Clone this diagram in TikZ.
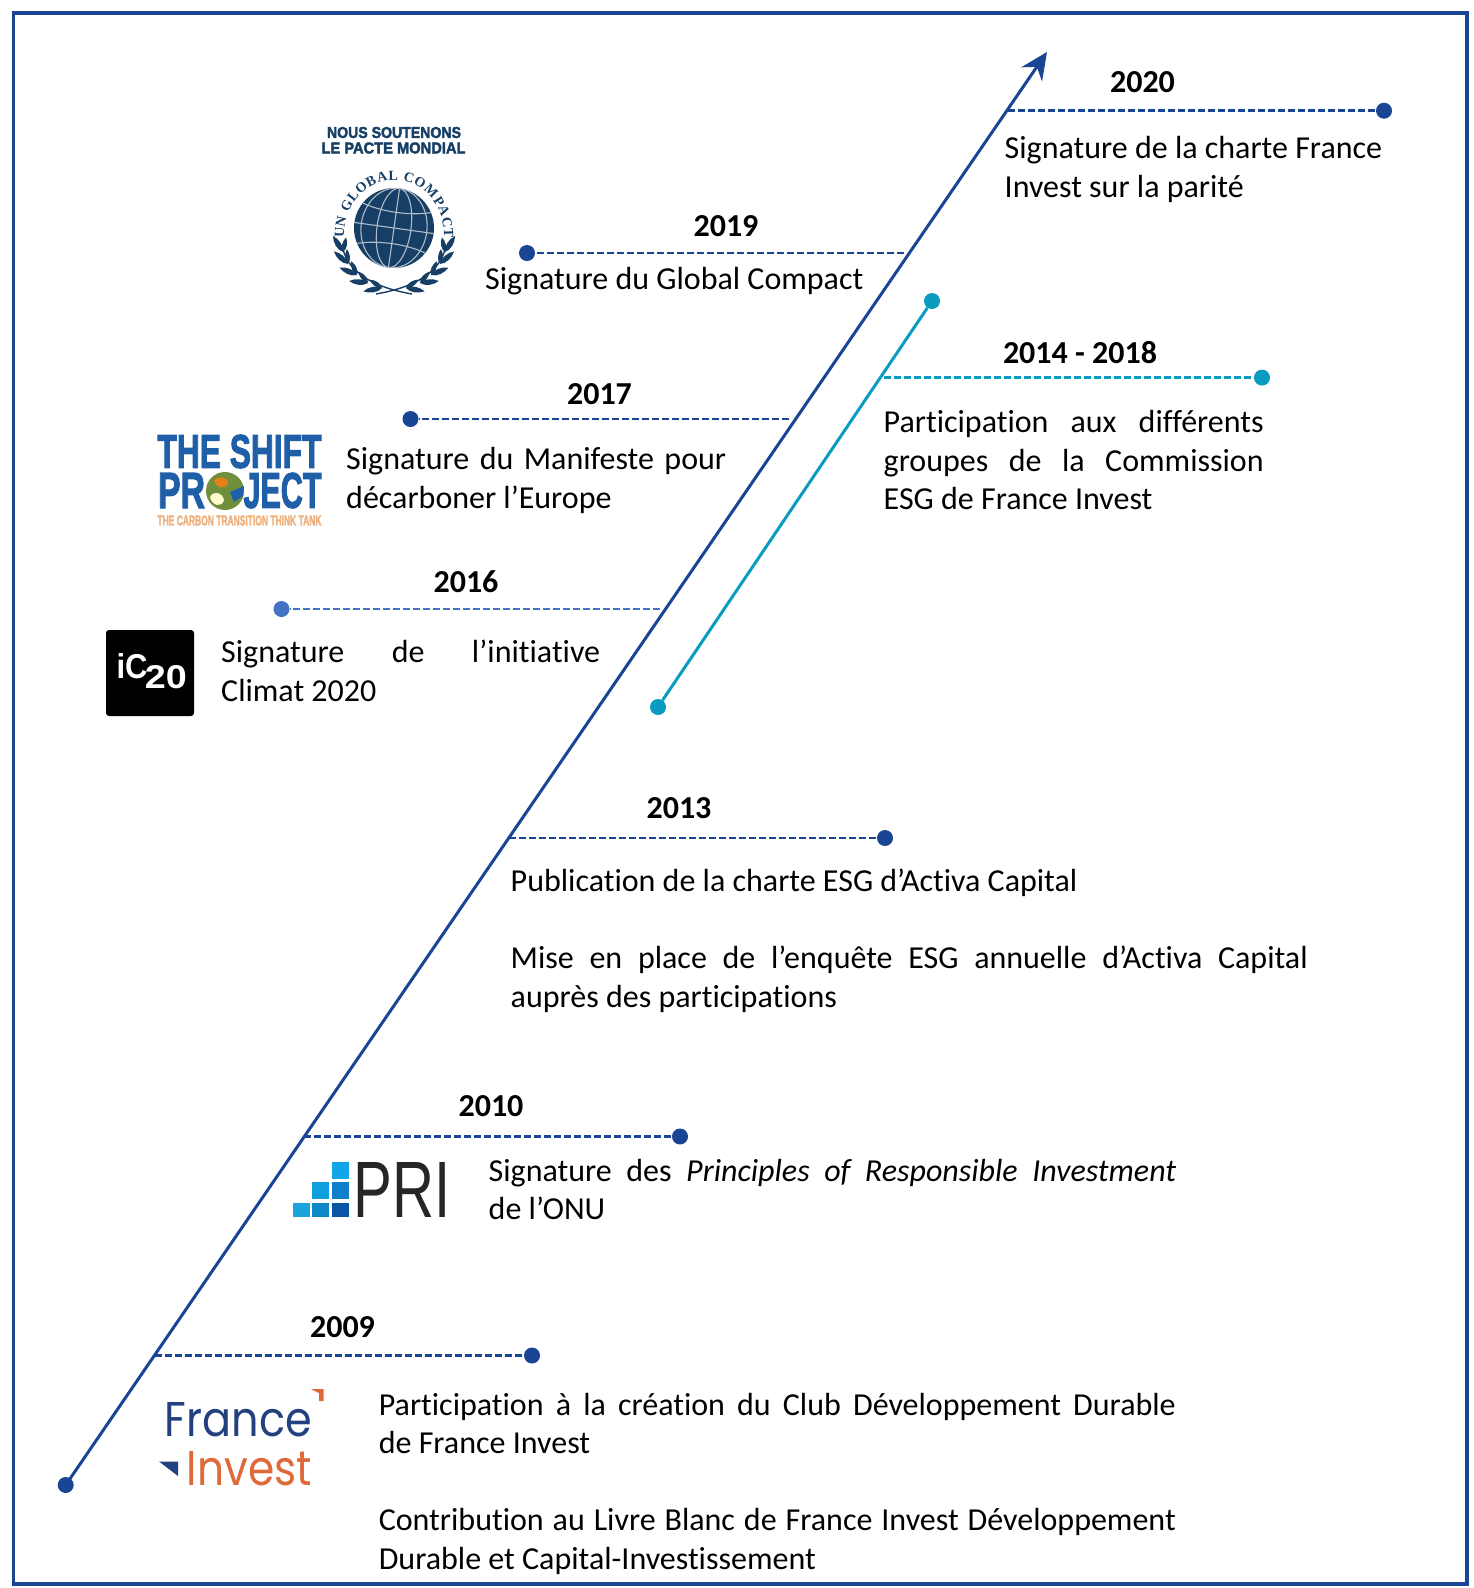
\documentclass[tikz,border=0pt]{standalone}
\usepackage{fontspec}
\setmainfont{Carlito}[Ligatures={NoCommon}]
\newfontfamily\logosans{Liberation Sans}
\newfontfamily\logoheavy{Liberation Sans Bold}[FakeBold=2.5]
\newfontfamily\logoserif{Liberation Serif}
\newfontfamily\logopop{Poppins}
\usetikzlibrary{arrows.meta,decorations.text}
\definecolor{navy}{HTML}{1A4595}
\definecolor{tealbar}{HTML}{0A9CC0}
\definecolor{midblue}{HTML}{4472C4}
\definecolor{gcblue}{HTML}{173F66}
\definecolor{shiftblue}{HTML}{1F5FA8}
\definecolor{globegreen}{HTML}{6F8F3A}
\definecolor{franceblue}{HTML}{24417F}
\definecolor{investorange}{HTML}{E0693A}
\definecolor{carbonorange}{HTML}{EDB27F}
\newcommand{\jl}[2]{\makebox[#1pt][s]{#2}}
\newcommand{\fitbox}[3]{\resizebox{#1pt}{#2pt}{#3}}
\tikzset{
  x=1pt,y=-1pt,
  frameline/.style={draw=navy,line width=3.5pt},
  timeline/.style={draw=navy,line width=3pt},
  dotnode/.style={circle,fill=#1,inner sep=0pt,minimum size=16pt},
  dotnode/.default=navy,
  dashline/.style={draw=#1,line width=2.6pt,dash pattern=on 7pt off 3pt},
  dashline/.default=navy,
  yearlabel/.style={anchor=base,inner sep=0pt,font=\fontsize{32}{38.5}\selectfont\bfseries},
  bodytext/.style={anchor=north west,inner sep=0pt,align=left,font=\fontsize{32}{38.5}\selectfont},
  logotext/.style={inner sep=0pt,anchor=center},
  leaf/.style={fill=gcblue},
}
\begin{document}
\begin{tikzpicture}
\useasboundingbox (0,0) rectangle (1474,1588);
\fill[white] (0,0) rectangle (1474,1588);
\draw[frameline] (13.5,13) rectangle (1467,1584);

% main timeline
\node[dotnode] (start) at (65.7,1485) {};
\coordinate (tip) at (1047,52);
\draw[timeline,-{Stealth[length=27pt,width=25pt,inset=9pt]}] (start.center) -- (tip);

% teal period bar
\node[dotnode=tealbar] (tealtop) at (932,301) {};
\node[dotnode=tealbar] (tealbot) at (658,707) {};
\draw[draw=tealbar,line width=3pt] (tealbot) -- (tealtop);

% 2020
\coordinate (j2020) at (1008,110.7);
\node[dotnode] (d2020) at (1384,110.7) {};
\draw[dashline] (j2020) -- (d2020);
\node[yearlabel] (y2020) at (1142.5,92) {2020};
\node[bodytext] (t2020) at (1004.5,131.5) {\strut Signature de la charte France\\Invest sur la parité};

% 2019
\coordinate (j2019) at (904,253);
\node[dotnode] (d2019) at (527,253) {};
\draw[dashline] (j2019) -- (d2019);
\node[yearlabel] (y2019) at (726,236) {2019};
\node[bodytext] (t2019) at (485,262.5) {\strut Signature du Global Compact};

% 2014 - 2018
\coordinate (j2014) at (884,377.6);
\node[dotnode=tealbar] (d2014) at (1262,377.6) {};
\draw[dashline=tealbar] (j2014) -- (d2014);
\node[yearlabel] (y2014) at (1080,363.5) {2014 - 2018};
\node[bodytext] (t2014) at (883.5,405.5) {\strut\jl{380}{Participation aux différents}\\\jl{380}{groupes de la Commission}\\ESG de France Invest};

% 2017
\coordinate (j2017) at (789,419);
\node[dotnode] (d2017) at (410.5,419) {};
\draw[dashline] (j2017) -- (d2017);
\node[yearlabel] (y2017) at (599.5,404) {2017};
\node[bodytext] (t2017) at (346,442.6) {\strut\jl{380}{Signature du Manifeste pour}\\décarboner l’Europe};

% 2016
\coordinate (j2016) at (660,609);
\node[dotnode=midblue] (d2016) at (281.5,609) {};
\draw[dashline=midblue] (j2016) -- (d2016);
\node[yearlabel] (y2016) at (466,592.5) {2016};
\node[bodytext] (t2016) at (221,635.5) {\strut\jl{379}{Signature de l’initiative}\\Climat 2020};

% 2013
\coordinate (j2013) at (509,838);
\node[dotnode] (d2013) at (885,838) {};
\draw[dashline] (j2013) -- (d2013);
\node[yearlabel] (y2013) at (679,818) {2013};
\node[bodytext] (t2013) at (510.5,864.5) {\strut Publication de la charte ESG d’Activa Capital\\[38.5pt]\jl{797}{Mise en place de l’enquête ESG annuelle d’Activa Capital}\\auprès des participations};

% 2010
\coordinate (j2010) at (304,1136.5);
\node[dotnode] (d2010) at (680,1136.5) {};
\draw[dashline] (j2010) -- (d2010);
\node[yearlabel] (y2010) at (491,1116.5) {2010};
\node[bodytext] (t2010) at (488.5,1154) {\strut\jl{687.5}{Signature des \textit{Principles of Responsible Investment}}\\de l’ONU};

% 2009
\coordinate (j2009) at (155,1355.5);
\node[dotnode] (d2009) at (532,1355.5) {};
\draw[dashline] (j2009) -- (d2009);
\node[yearlabel] (y2009) at (342.5,1337) {2009};
\node[bodytext] (t2009) at (378.6,1388) {\strut\jl{797}{Participation à la création du Club Développement Durable}\\de France Invest\\[38.5pt]\jl{797}{Contribution au Livre Blanc de France Invest Développement}\\Durable et Capital-Investissement};

% --- UN Global Compact logo
\node[logotext,text=gcblue] (gc1) at (394,132.5) {\fitbox{134}{11}{\logoheavy NOUS SOUTENONS}};
\node[logotext,text=gcblue] (gc2) at (393.5,148) {\fitbox{144}{11}{\logoheavy LE PACTE MONDIAL}};
\fill[gcblue] (394,228) circle[radius=40pt];
\begin{scope}[draw=white!65!gcblue,line width=1.1pt,rotate around={-8:(394,228)}]
  \clip (394,228) circle[radius=40pt];
  \draw (394,188) -- (394,268);
  \draw (394,228) ellipse[x radius=17pt,y radius=40pt];
  \draw (394,228) ellipse[x radius=33pt,y radius=40pt];
  \draw (354,228) -- (434,228);
  \draw (358,207) .. controls (378,214) and (410,214) .. (430,207);
  \draw (358,249) .. controls (378,242) and (410,242) .. (430,249);
\end{scope}
\path[decorate,decoration={text along path,text align={fit to path},
  text={|\logoserif\bfseries\fontsize{14}{14}\selectfont\color{gcblue}|UN GLOBAL COMPACT}}]
  (344,238) .. controls (343,204) and (367,180) .. (394,180) .. controls (421,180) and (445,204) .. (444,238);
\foreach \s in {1,-1}{
  \begin{scope}[shift={(394,228)},xscale=\s]
    \draw[gcblue,line width=1.4pt] (-52,17) .. controls (-48,40) and (-28,58) .. (18,66);
    \foreach \px/\py/\a in {-51/24/100,-46/36/116,-37/47/135,-26/55/152,-12/60/168}{
      \fill[leaf,shift={(\px,\py)},rotate=\a+22] (0,0) .. controls (5,-4) and (13,-3.5) .. (19,0) .. controls (13,3.5) and (5,4) .. (0,0);
      \fill[leaf,shift={(\px,\py)},rotate=\a-22] (0,0) .. controls (4,-3.5) and (10,-3) .. (15,0) .. controls (10,3) and (4,3.5) .. (0,0);
    }
  \end{scope}
}

% --- The Shift Project logo
\node[logotext,text=shiftblue] (sp1) at (239.5,451.5) {\fitbox{164}{33}{\logoheavy THE SHIFT}};
\node[logotext,text=shiftblue] (sp2) at (181.5,490.5) {\fitbox{47}{35}{\logoheavy PR}};
\node[logotext,text=shiftblue] (sp3) at (282.5,490.5) {\fitbox{78}{35}{\logoheavy JECT}};
\fill[globegreen] (225,491) circle[radius=19pt];
\fill[white!80!yellow] (210,497) .. controls (214,490) and (222,492) .. (224,500) .. controls (222,508) and (212,506) .. (210,497);
\fill[orange!60!brown] (214,480) .. controls (220,475) and (228,477) .. (228,484) .. controls (224,490) and (216,488) .. (214,480);
\fill[shiftblue] (230,492) -- (244,486) -- (243,496) -- (234,502) -- cycle;
\node[logotext,text=carbonorange] (sp4) at (239.5,520.5) {\fitbox{164}{10}{\logoheavy THE CARBON TRANSITION THINK TANK}};

% --- iC20 logo
\fill[black,rounded corners=3pt] (106,630) rectangle (194,716);
\node[logotext,text=white] (ic1) at (132,666) {\fitbox{31}{25}{\logosans\bfseries iC}};
\node[logotext,text=white] (ic2) at (166,677) {\fitbox{42}{23}{\logosans\bfseries 20}};

% --- PRI logo
\foreach \a/\b/\c/\d/\col in {
  293/1203/310/1217/1AA3DC,
  312/1203/329/1217/0F86C8,
  332/1203/349/1217/0B55A8,
  312/1182/329/1199/0F9FDC,
  332/1182/349/1199/0F7FCC,
  332/1162/349/1179/12A5E8}{
  \definecolor{pricol}{HTML}{\col}
  \fill[pricol] (\a,\b) rectangle (\c,\d);
}
\node[logotext,text=black!85] (pri) at (402.5,1189.5) {\fitbox{97}{55}{\logosans PRI}};

% --- France Invest logo
\node[logotext,text=franceblue] (fi1) at (238.5,1420) {\fitbox{147}{34}{\logopop France}};
\node[logotext,text=investorange] (fi2) at (249.5,1469) {\fitbox{125}{34}{\logopop Invest}};
\fill[franceblue] (159,1461.5) -- (178,1461.5) -- (178,1476) -- cycle;
\fill[investorange] (311,1389) -- (323.5,1389) -- (323.5,1401) -- (319,1401) -- (319,1393) -- cycle;
\end{tikzpicture}
\end{document}
